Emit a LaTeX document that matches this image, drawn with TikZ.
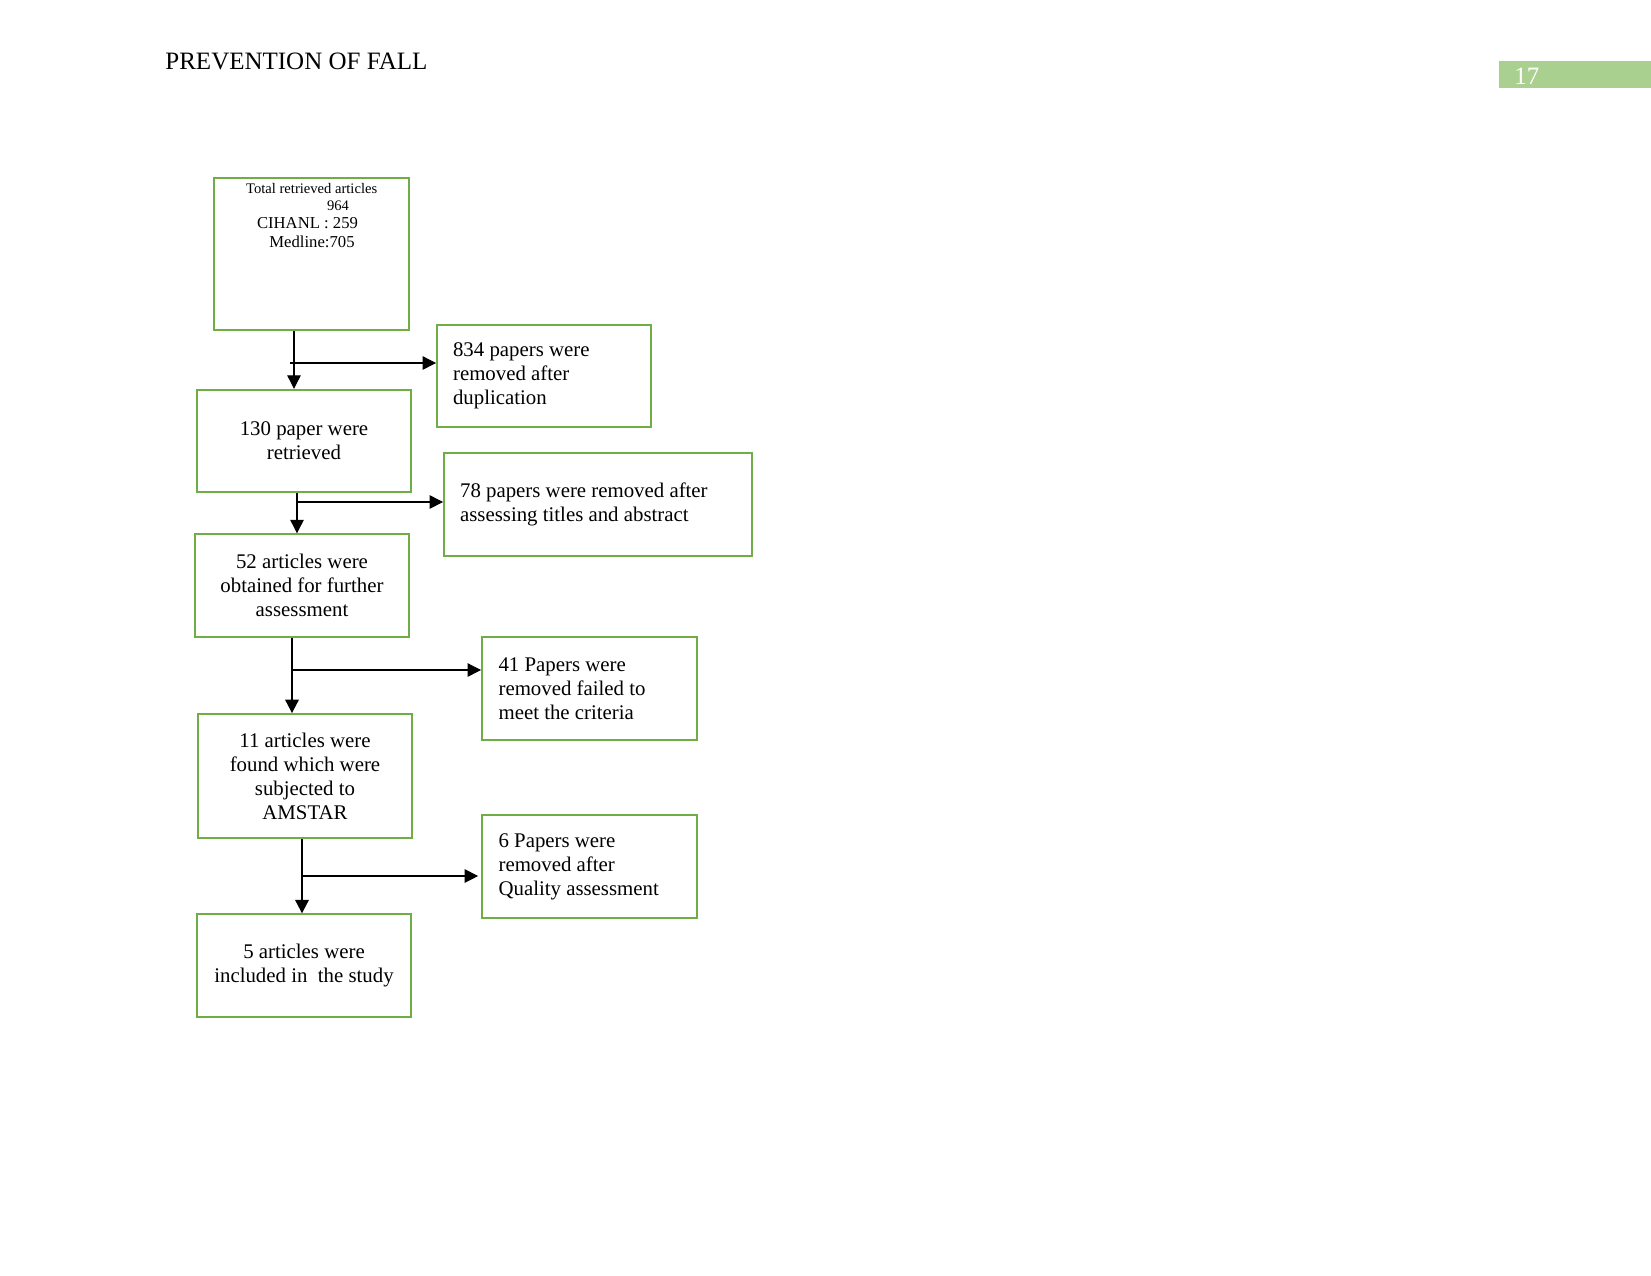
\documentclass[tikz,border=0pt]{standalone}
\usepackage{fontspec}
\setmainfont{Liberation Serif}
\usepackage{tikz}
\usetikzlibrary{positioning, arrows.meta, calc}

\definecolor{boxgreen}{RGB}{112,173,71}
\definecolor{headgreen}{RGB}{169,208,142}

\begin{document}
\begin{tikzpicture}[x=0.48pt, y=-0.48pt]
    % Stili per i riquadri e le frecce
    \tikzset{
        box/.style={
            draw=boxgreen,
            line width=0.9pt,
            minimum width=102.7pt,
            minimum height=49.2pt,
            font=\fontsize{10}{11.5}\selectfont
        },
        midbox/.style={
            box,
            align=center
        },
        sidebox/.style={
            box,
            align=flush left,
            inner xsep=7.7pt,
            text width=87.3pt
        },
        arr/.style={
            -{Triangle[length=6.5pt, width=6.5pt]},
            line width=0.5pt
        },
        thickarr/.style={
            arr,
            line width=1pt
        }
    }

    % Cornice della pagina
    \useasboundingbox (0,0) rectangle (1651,1275);

    % --- Intestazione ---
    \node[anchor=base west, inner sep=0pt, font=\fontsize{12}{14}\selectfont]
        (title) at (165,69.5) {PREVENTION OF FALL};
    \fill[headgreen] (1499,61) rectangle (1651,88);
    \node[anchor=base west, inner sep=0pt, text=white, font=\fontsize{12}{14}\selectfont]
        (pagenum) at (1514,84) {17};

    % --- Colonna principale ---
    \node[box, minimum width=93.6pt, minimum height=73pt] (total) at (311.5,254) {};
    \node[anchor=base, inner sep=0pt, font=\fontsize{7}{8}\selectfont]
        (totA) at (311.7,193.5) {Total retrieved articles};
    \node[anchor=base, inner sep=0pt, font=\fontsize{7}{8}\selectfont]
        (totB) at (338,210) {964};
    \node[anchor=base, inner sep=0pt, font=\fontsize{8}{9}\selectfont]
        (totC) at (307.5,228.5) {CIHANL : 259};
    \node[anchor=base, inner sep=0pt, font=\fontsize{8}{9}\selectfont]
        (totD) at (312,247.5) {Medline:705};

    \node[midbox] (n130) at (304,441) {130 paper were\\retrieved};
    \node[midbox] (n52) at (302,585.5) {52 articles were\\obtained for further\\assessment};
    \node[midbox, minimum height=59.5pt] (n11) at (305,776)
        {11 articles were\\found which were\\subjected to\\AMSTAR};
    \node[midbox] (n5) at (304,965.5) {5 articles were\\included in~ the study};

    % --- Articoli esclusi (a destra) ---
    \node[sidebox] (r834) at (544,376) {834 papers were\\removed after\\duplication};
    \node[sidebox, minimum width=147.8pt, text width=132.4pt] (r78) at (598,504.5)
        {78 papers were removed after\\assessing titles and abstract};
    \node[sidebox, minimum width=103.2pt] (r41) at (589.5,688.5)
        {41 Papers were\\removed failed to\\meet the criteria};
    \node[sidebox, minimum width=103.2pt] (r6) at (589.5,866.5)
        {6 Papers were\\removed after\\Quality assessment};

    % Punti di diramazione
    \coordinate (j1) at (294,363);
    \coordinate (j2) at (297,502);
    \coordinate (j3) at (292,670);
    \coordinate (j4) at (302,876);

    % Frecce verticali
    \draw[arr] (total.south -| j1) -- (n130.north -| j1);
    \draw[arr] (n130.south -| j2) -- (n52.north -| j2);
    \draw[thickarr] (n52.south -| j3) -- (n11.north -| j3);
    \draw[thickarr] (n11.south -| j4) -- (n5.north -| j4);

    % Frecce orizzontali
    \draw[arr] ($(j1)+(-4,0)$) -- (j1 -| r834.west);
    \draw[arr] (j2) -- (j2 -| r78.west);
    \draw[arr] (j3) -- (j3 -| r41.west);
    \draw[arr, shorten >=1.4pt] (j4) -- (j4 -| r6.west);

\end{tikzpicture}
\end{document}
